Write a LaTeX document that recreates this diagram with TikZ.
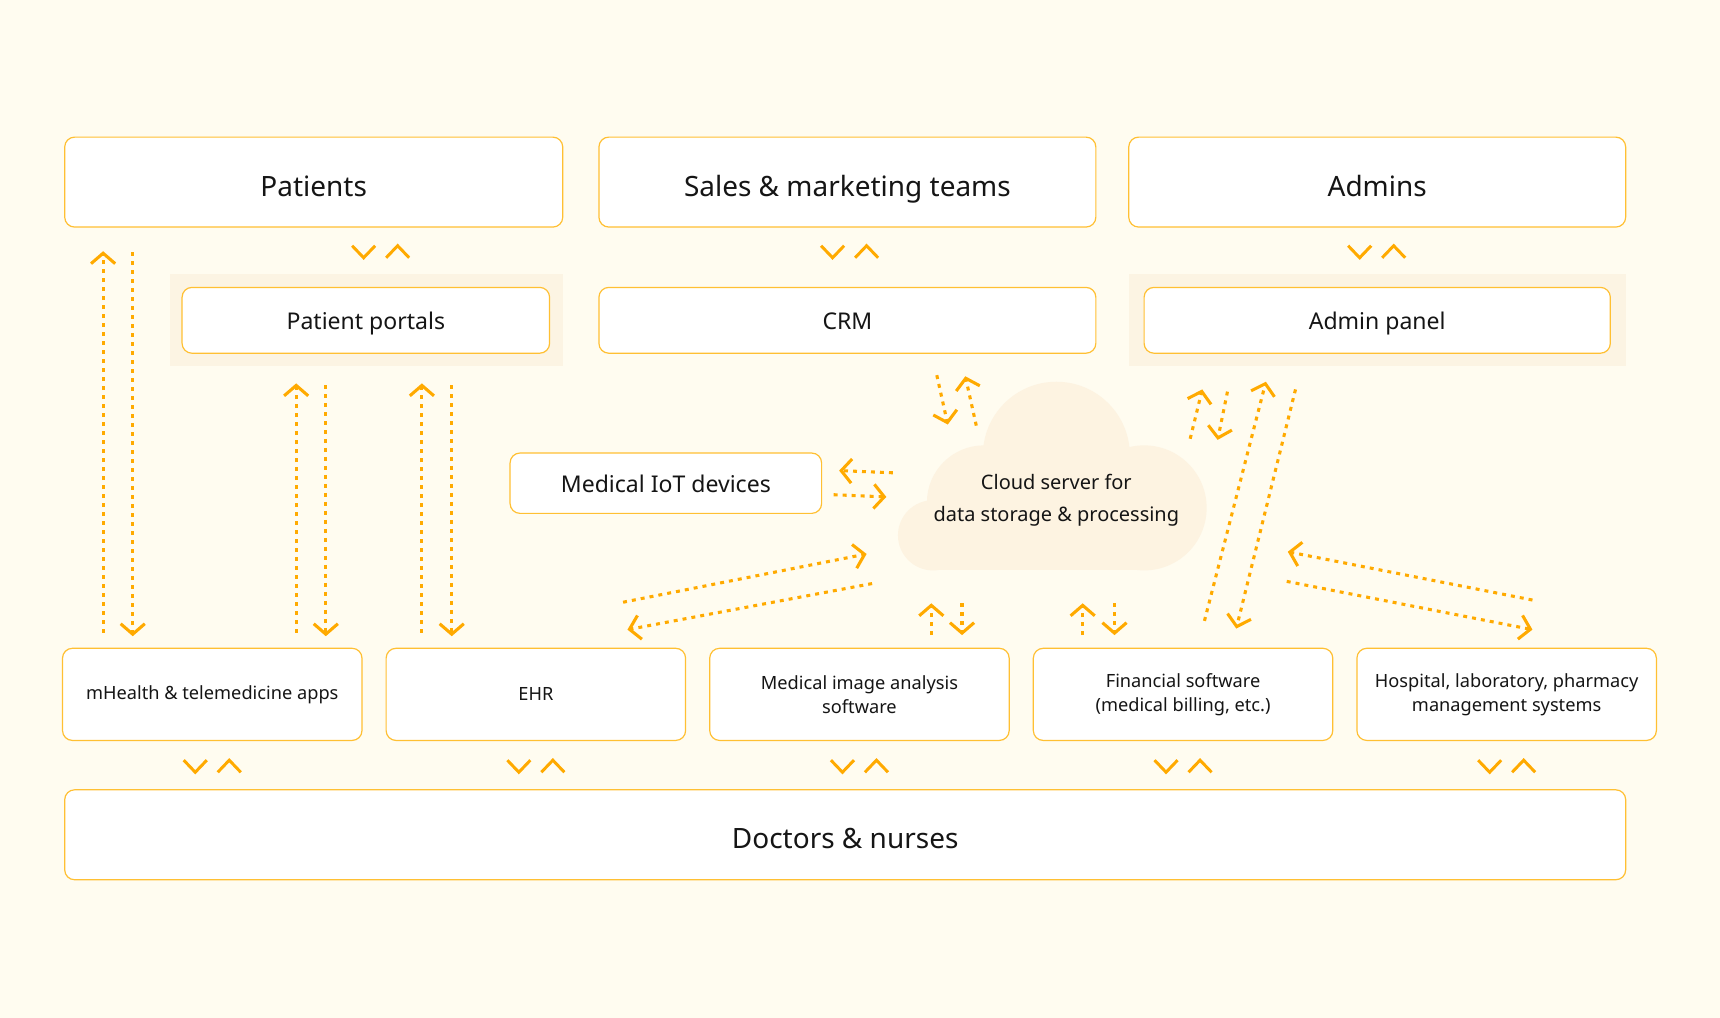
\documentclass[tikz,border=0pt]{standalone}
\usepackage{fontspec}
\setmainfont{Noto Sans}
\usetikzlibrary{arrows.meta}
\definecolor{bgc}{HTML}{FFFCF0}
\definecolor{shadec}{HTML}{FCF4E3}
\definecolor{cloudc}{HTML}{FDF3E1}
\definecolor{arrc}{HTML}{FFAA00}
\definecolor{bordc}{HTML}{FFC033}
\definecolor{txtc}{HTML}{151515}
\tikzset{
  box/.style={draw=bordc, line width=1.1pt, fill=white, rounded corners=9pt, text=txtc, align=center, inner sep=0pt},
  bigbox/.style={box, minimum height=82pt, text height=25.5pt, text depth=0pt, font=\fontsize{25.5}{30}\selectfont},
  midbox/.style={box, minimum height=60pt, text height=16.4pt, text depth=0pt, font=\fontsize{21}{26}\selectfont},
  lowbox/.style={box, minimum width=273pt, minimum height=84pt, font=\fontsize{16.6}{22}\selectfont},
  flow/.style={draw=arrc, line width=2.8pt, dash pattern=on 3.6pt off 4.6pt, -{Straight Barb[length=9.5pt,width=22pt,line width=2.8pt]}},
  chev/.style={draw=arrc, line width=2.7pt},
  updown/.pic={\draw[chev] (-26,-5.5)--(-15.5,5.5)--(-5,-5.5); \draw[chev] (5,5.5)--(15.5,-5.5)--(26,5.5);}
}
\begin{document}
\begin{tikzpicture}[x=1pt,y=-1pt]
\fill[bgc] (0,0) rectangle (1568,928);
\useasboundingbox (0,0) rectangle (1568,928);
% shadings
\fill[shadec] (155,250) rectangle (513,334);
\fill[shadec] (1029,250) rectangle (1482,334);
% cloud
\fill[cloudc] (850.6,488) circle[radius=32pt];
\fill[cloudc] (897,458) circle[radius=52pt];
\fill[cloudc] (963,415) circle[radius=67pt];
\fill[cloudc] (1043,463) circle[radius=57pt];
\fill[cloudc] (850,455) rectangle (1043,520);
\node[text=txtc, align=center, font=\fontsize{18.2}{29}\selectfont] (cloud) at (963,456) {Cloud server for\\data storage \& processing};
% top row
\node[bigbox, minimum width=454pt] (patients) at (286,166) {Patients};
\node[bigbox, minimum width=453pt] (sales) at (772.5,166) {Sales \& marketing teams};
\node[bigbox, minimum width=453pt] (admins) at (1255.5,166) {Admins};
% second row
\node[midbox, minimum width=335pt] (portals) at (333.5,292) {Patient portals};
\node[midbox, minimum width=453pt] (crm) at (772.5,292) {CRM};
\node[midbox, minimum width=425pt] (adminpanel) at (1255.5,292) {Admin panel};
\node[midbox, minimum width=284pt, minimum height=55pt] (iot) at (607,440.5) {Medical IoT devices};
% bottom row
\node[lowbox] (mhealth) at (193.5,633) {mHealth \& telemedicine apps};
\node[lowbox] (ehr) at (488.5,633) {EHR};
\node[lowbox] (medimg) at (783.5,633) {Medical image analysis\\software};
\node[lowbox] (fin) at (1078.5,633) {Financial software\\(medical billing, etc.)};
\node[lowbox] (hosp) at (1373.5,633) {Hospital, laboratory, pharmacy\\management systems};
\node[bigbox, minimum width=1423pt] (doctors) at (770.5,761) {Doctors \& nurses};
% chevron pairs
\pic at (347,229.5) {updown};
\pic at (774.5,229.5) {updown};
\pic at (1255,229.5) {updown};
\foreach \cx in {193.5,488.5,783.5,1078.5,1373.5} \pic at (\cx,698.5) {updown};
% endpoints
\coordinate (a1s) at (94,577);   \coordinate (a1e) at (94,229);
\coordinate (a2s) at (121,230);  \coordinate (a2e) at (121,580);
\coordinate (a3s) at (270,577);  \coordinate (a3e) at (270,349.5);
\coordinate (a4s) at (297,351);  \coordinate (a4e) at (297,580);
\coordinate (a5s) at (384.6,577);\coordinate (a5e) at (384.6,349.5);
\coordinate (a6s) at (411.8,351);\coordinate (a6e) at (411.8,580);
\coordinate (b1s) at (814,431);  \coordinate (b1e) at (765,429);
\coordinate (b2s) at (760,451);  \coordinate (b2e) at (808,453);
\coordinate (c1s) at (854,342);  \coordinate (c1e) at (864,387);
\coordinate (c2s) at (890,388);  \coordinate (c2e) at (880,343);
\coordinate (d1s) at (1085,400); \coordinate (d1e) at (1096,355);
\coordinate (d2s) at (1119,357); \coordinate (d2e) at (1110,401);
\coordinate (e1s) at (1098,566); \coordinate (e1e) at (1154,348);
\coordinate (e2s) at (1181,355); \coordinate (e2e) at (1127,573);
\coordinate (f1s) at (568,549);  \coordinate (f1e) at (790,505);
\coordinate (f2s) at (795,532);  \coordinate (f2e) at (572,574);
\coordinate (g1s) at (849,579);  \coordinate (g1e) at (849,550);
\coordinate (g2s) at (877,550);  \coordinate (g2e) at (877,579);
\coordinate (h1s) at (987,579);  \coordinate (h1e) at (987,550);
\coordinate (h2s) at (1016,550); \coordinate (h2e) at (1016,579);
\coordinate (k1s) at (1397,547); \coordinate (k1e) at (1174,503);
\coordinate (k2s) at (1173,530); \coordinate (k2e) at (1397,574);
\foreach \n in {a1,a2,a3,a4,a5,a6,b1,b2,c1,c2,d1,d2,e1,e2,f1,f2,g1,g2,h1,h2,k1,k2}
  \draw[flow] (\n s) -- (\n e);
\end{tikzpicture}
\end{document}
